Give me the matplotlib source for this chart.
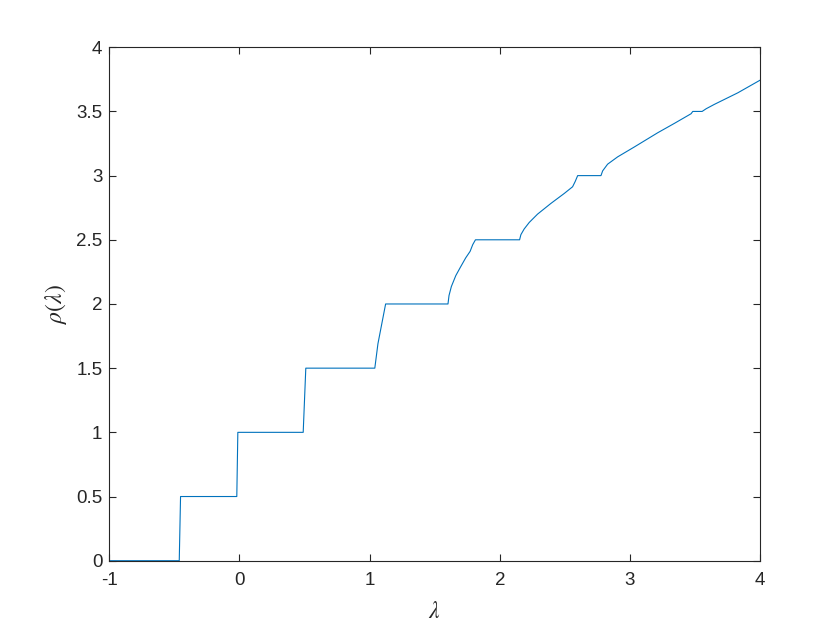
import numpy as np
import matplotlib.pyplot as plt

# points (lambda, rho)
lam = [-1.0, -0.462, -0.452, -0.02, -0.012, 0.49, 0.51, 1.04, 1.064, 1.123,
       1.602, 1.610, 1.628, 1.662, 1.700, 1.738, 1.772, 1.792, 1.813,
       2.152, 2.162, 2.187, 2.226, 2.290, 2.392, 2.495, 2.559, 2.579, 2.598,
       2.777, 2.790, 2.828, 2.905, 3.033, 3.213, 3.341, 3.469, 3.482,
       3.554, 3.585, 3.648, 3.828, 4.0]
rho = [0.0, 0.0, 0.5, 0.5, 1.0, 1.0, 1.5, 1.5, 1.69, 2.0,
       2.0, 2.066, 2.136, 2.221, 2.291, 2.359, 2.410, 2.462, 2.5,
       2.5, 2.54, 2.584, 2.635, 2.70, 2.783, 2.861, 2.913, 2.954, 3.0,
       3.0, 3.037, 3.089, 3.146, 3.223, 3.334, 3.407, 3.482, 3.5,
       3.5, 3.521, 3.555, 3.645, 3.744]

plt.rcParams['font.family'] = ['Liberation Sans', 'DejaVu Sans']
plt.rcParams['mathtext.fontset'] = 'stix'
plt.rcParams['axes.unicode_minus'] = False

fig = plt.figure(figsize=(8.4, 6.3), dpi=100)
ax = fig.add_axes([0.13, 0.11, 0.775, 0.815])
ax.plot(lam, rho, color='#0072BD', linewidth=0.8)

ax.set_xlim(-1, 4)
ax.set_ylim(0, 4)
ax.set_xticks([-1, 0, 1, 2, 3, 4])
ax.set_yticks(np.arange(0, 4.01, 0.5))
ax.set_yticklabels(['0', '0.5', '1', '1.5', '2', '2.5', '3', '3.5', '4'])
ax.tick_params(direction='in', length=5, width=0.8, labelsize=13.5,
               top=True, right=True, colors='#262626')
ax.tick_params(axis='x', pad=8)
ax.tick_params(axis='y', pad=5)
for s in ax.spines.values():
    s.set_linewidth(0.8)
    s.set_color('#262626')
ax.set_xlabel(r'$\lambda$', fontsize=17, color='#262626')
ax.set_ylabel(r'$\rho(\lambda)$', fontsize=17, color='#262626')
ax.xaxis.set_label_coords(0.499, -0.078)
ax.yaxis.set_label_coords(-0.062, 0.5)

fig.savefig('out.png', dpi=100)
